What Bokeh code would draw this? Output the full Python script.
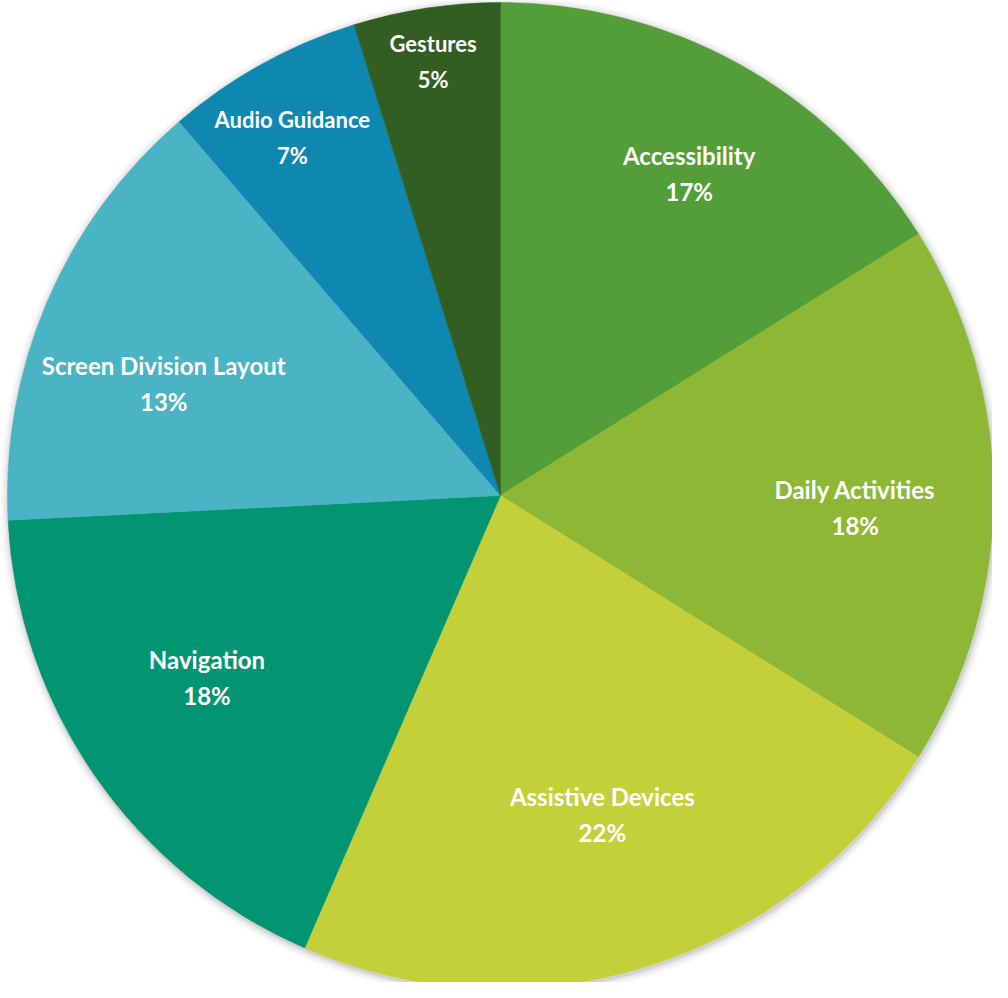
import math
from bokeh.plotting import figure
from bokeh.models import ColumnDataSource
from bokeh.core.properties import value
from bokeh.embed import file_html
from bokeh.resources import INLINE

# ---- data (clockwise from 12 o'clock) ----
categories = ["Accessibility", "Daily Activities", "Assistive Devices", "Navigation",
              "Screen Division Layout", "Audio Guidance", "Gestures"]
shares = [16.1, 17.8, 22.6, 17.7, 14.5, 6.5, 4.8]          # slice sizes as drawn
pct_labels = ["17%", "18%", "22%", "18%", "13%", "7%", "5%"]  # printed labels
colors = ["#549E39", "#8DB735", "#C3D03A", "#039571", "#4AB3C4", "#0E88B0", "#335E22"]

# ---- layout ----
W, H = 992, 982
CX, CY = 500, H - 495
R = 493
label_rf = [0.757, 0.72, 0.68, 0.70, 0.72, 0.84, 0.89]
label_da = [1.4, 2.0, -0.4, 3.0, -4.8, -1.2, -0.2]   # degrees
label_size = ["24px", "24px", "24px", "24px", "24px", "22px", "22px"]

total = sum(shares)
starts, ends, mids = [], [], []
cum = 0.0
for s in shares:
    a0 = cum / total
    cum += s
    a1 = cum / total
    starts.append(math.pi / 2 - a0 * 2 * math.pi)
    ends.append(math.pi / 2 - a1 * 2 * math.pi)
    mids.append((a0 + a1) / 2 * 360.0)

src = ColumnDataSource(dict(cat=categories, start=starts, end=ends, color=colors))

p = figure(width=W, height=H, x_range=(0, W), y_range=(0, H),
           output_backend="svg", toolbar_location=None, min_border=0)
p.axis.visible = False
p.grid.visible = False
p.outline_line_color = None
p.background_fill_color = "white"
p.border_fill_color = "white"

# soft shadow
for i, a in [(9, 0.015), (7, 0.025), (5, 0.035), (3, 0.05), (1.5, 0.06)]:
    p.circle(x=CX + 1, y=CY - 2, radius=R + i, fill_color="black", fill_alpha=a,
             line_color=None)

p.wedge(x=CX, y=CY, radius=R, start_angle="start", end_angle="end",
        direction="clock", fill_color="color", line_color="color", line_width=0.5,
        source=src)

lx, ly_name, ly_pct = [], [], []
for m, f, da in zip(mids, label_rf, label_da):
    th = math.radians(m + da)
    x = CX + R * f * math.sin(th)
    y = CY + R * f * math.cos(th)
    lx.append(x)
    ly_name.append(y + 18)
    ly_pct.append(y - 18)

lsrc = ColumnDataSource(dict(x=lx, yn=ly_name, yp=ly_pct, name=categories,
                             pct=pct_labels, size=label_size))
for ycol, tcol in [("yn", "name"), ("yp", "pct")]:
    p.text(x="x", y=ycol, text=tcol, source=lsrc, text_align="center",
           text_baseline="middle", text_color="white", text_font=value("Lato"),
           text_font_style="bold", text_font_size="size")

open("out.html", "w").write(file_html(p, INLINE))
